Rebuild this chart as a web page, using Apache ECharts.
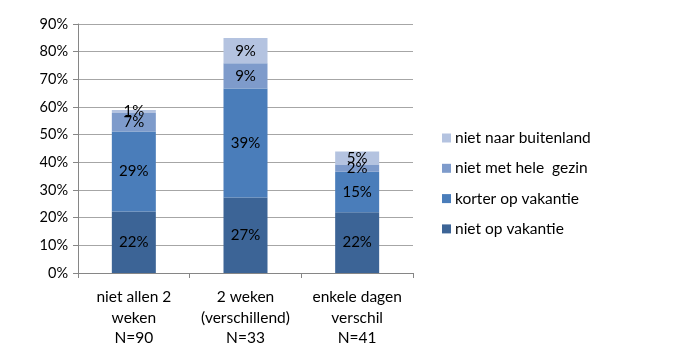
<!DOCTYPE html>
<html>
<head>
<meta charset="utf-8">
<script src="https://cdn.jsdelivr.net/npm/echarts@6/dist/echarts.min.js"></script>
<style>html,body{margin:0;padding:0;background:#fff;}#c{width:677px;height:357px;}</style>
</head>
<body>
<div id="c"></div>
<script>
const categories = ['niet allen 2\nweken\nN=90', '2 weken\n(verschillend)\nN=33', 'enkele dagen\nverschil\nN=41'];
const nietOpVakantie = [22.2, 27.3, 22.0];
const korterOpVakantie = [28.9, 39.4, 14.6];
const nietMetHeleGezin = [6.7, 9.1, 2.4];
const nietNaarBuitenland = [1.1, 9.1, 4.9];
const seriesNames = ['niet op vakantie', 'korter op vakantie', 'niet met hele  gezin', 'niet naar buitenland'];
const colors = ['#3C6496', '#4A7DBA', '#7E9BCB', '#B4C3E0'];
const yTicks = [0, 10, 20, 30, 40, 50, 60, 70, 80, 90];

const FONT = 'Lato';
const dataSets = [nietOpVakantie, korterOpVakantie, nietMetHeleGezin, nietNaarBuitenland];
const chart = echarts.init(document.getElementById('c'));
chart.setOption({
  animation: false,
  textStyle: { fontFamily: FONT },
  grid: { left: 78, right: 264, top: 24, bottom: 84 },
  legend: {
    data: seriesNames.slice().reverse(),
    orient: 'vertical',
    left: 437,
    top: 125,
    itemWidth: 9,
    itemHeight: 9,
    itemGap: 14.3,
    icon: 'rect',
    textStyle: { fontFamily: FONT, fontSize: 15.5, color: '#000', padding: [0, 0, 0, -1] }
  },
  xAxis: {
    type: 'category',
    data: categories,
    axisLine: { lineStyle: { color: '#868686', width: 1 } },
    axisTick: { show: true, length: 5, lineStyle: { color: '#868686' } },
    axisLabel: { interval: 0, hideOverlap: false, fontFamily: FONT, fontSize: 15.5, color: '#000', lineHeight: 20.5, margin: 14 }
  },
  yAxis: {
    type: 'value',
    min: yTicks[0],
    max: yTicks[yTicks.length - 1],
    interval: 10,
    axisLine: { show: true, lineStyle: { color: '#868686' } },
    axisTick: { show: true, length: 5, lineStyle: { color: '#868686' } },
    splitLine: { lineStyle: { color: '#A6A6A6', width: 1 } },
    axisLabel: { fontFamily: FONT, fontSize: 14.5, color: '#000', margin: 10, formatter: v => v + '%' }
  },
  series: dataSets.map((d, i) => ({
    name: seriesNames[i],
    type: 'bar',
    stack: 'total',
    data: d,
    barWidth: 44,
    itemStyle: { color: colors[i] },
    label: {
      show: true,
      position: 'inside',
      fontFamily: FONT,
      fontSize: 15,
      color: '#000',
      formatter: p => Math.round(p.value) + '%'
    }
  }))
});
</script>
</body>
</html>
